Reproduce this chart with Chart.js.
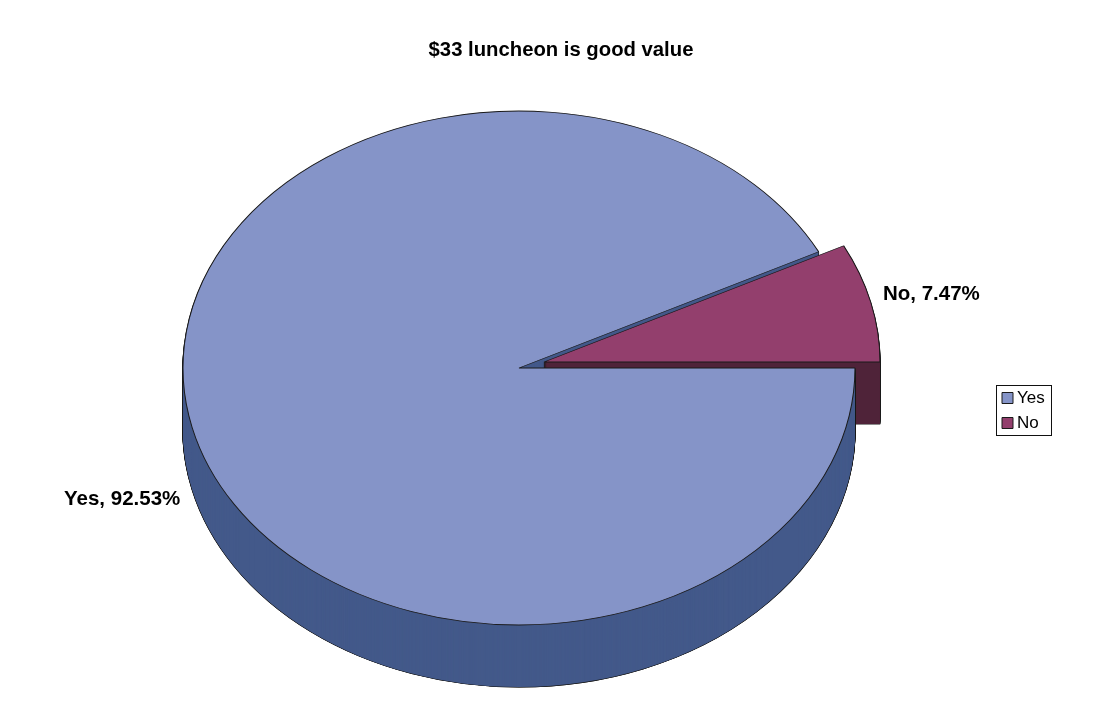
<!DOCTYPE html>
<html>
<head>
<meta charset="utf-8">
<style>html,body{margin:0;padding:0;background:#fff}canvas{display:block}</style>
<script src="https://cdn.jsdelivr.net/npm/chart.js@4/dist/chart.umd.js"></script>
</head>
<body>
<canvas id="c" width="1100" height="720"></canvas>
<script>
const categories = ['Yes', 'No'];
const shares = [92.53, 7.47];
const topColors = ['#8594C8', '#933F6D'];
const wallColors = ['#43598A', '#4F2339'];
const titleText = '$33 luncheon is good value';
const FONT = '"Liberation Sans", Arial, sans-serif';

const view = {cx: 519, cy: 368, rx: 336, ry: 257, depth: 62};
const explode = [[0, 0], [25, -6]];

function paintArc(arc, ctx, fill, line, width) {
  const saved = arc.options;
  arc.options = Object.assign({}, saved, {backgroundColor: fill, borderColor: line, borderWidth: width});
  arc.draw(ctx);
  arc.options = saved;
}

const tiltedPie = {
  id: 'tiltedPie',
  afterLayout(chart) {
    const leg = chart.legend;
    leg.left = 998.5; leg.right = 1100; leg.top = 381.5; leg.bottom = 720;
  },
  beforeDatasetDraw(chart) {
    const ctx = chart.ctx;
    const arcs = chart.getDatasetMeta(0).data;
    const a = arcs[0];
    const sx = view.rx / a.outerRadius, sy = view.ry / a.outerRadius;
    const place = (i, dy) => {
      ctx.setTransform(1, 0, 0, 1, 0, 0);
      ctx.translate(view.cx + explode[i][0], view.cy + explode[i][1] + dy);
      ctx.scale(sx, sy);
      ctx.translate(-a.x, -a.y);
    };
    const wall = (i) => {
      for (let d = view.depth; d >= 1; d--) { place(i, d); paintArc(arcs[i], ctx, '#1a1a1a', '#1a1a1a', 1.2); }
      for (let d = view.depth; d >= 1; d--) { place(i, d); paintArc(arcs[i], ctx, wallColors[i], wallColors[i], 0); }
    };
    ctx.save();
    wall(0);
    wall(1);
    ctx.save();
    ctx.setTransform(1, 0, 0, 1, 0, 0);
    ctx.beginPath();
    ctx.rect(0, view.cy, chart.width, chart.height - view.cy);
    ctx.clip();
    wall(0);
    ctx.restore();
    [0, 1].forEach(i => { place(i, 0); arcs[i].draw(ctx); });
    ctx.restore();
    return false;
  },
  afterDraw(chart) {
    const ctx = chart.ctx;
    ctx.save();
    ctx.fillStyle = '#000';
    ctx.font = 'bold 20.5px ' + FONT;
    ctx.textBaseline = 'middle';
    ctx.textAlign = 'left';
    const spots = [[64, 499], [883, 294]];
    categories.forEach((name, i) => {
      ctx.fillText(name + ', ' + shares[i].toFixed(2) + '%', spots[i][0], spots[i][1]);
    });
    ctx.strokeStyle = '#111';
    ctx.lineWidth = 1;
    ctx.strokeRect(996.5, 385.5, 55, 50);
    ctx.restore();
  }
};

new Chart(document.getElementById('c'), {
  type: 'pie',
  data: {
    labels: categories,
    datasets: [{
      data: shares,
      backgroundColor: topColors,
      borderColor: '#1a1a1a',
      borderWidth: 1,
      clip: false
    }]
  },
  plugins: [tiltedPie],
  options: {
    responsive: false,
    animation: false,
    rotation: 90,
    layout: {padding: {left: 22, right: 0, top: 38, bottom: 0}},
    plugins: {
      tooltip: {enabled: false},
      title: {
        display: true,
        text: titleText,
        color: '#000',
        font: {family: FONT, size: 20.3, weight: 'bold'},
        padding: {top: 0, bottom: 4}
      },
      legend: {
        position: 'right',
        align: 'start',
        labels: {
          color: '#000',
          font: {family: FONT, size: 17},
          usePointStyle: true,
          boxWidth: 2,
          boxHeight: 11,
          padding: 8,
          generateLabels(chart) {
            return categories.map((name, i) => ({
              text: name, fillStyle: topColors[i], strokeStyle: '#1a1a1a', lineWidth: 1, pointStyle: 'rect', index: i, hidden: false
            }));
          }
        }
      }
    }
  }
});
</script>
</body>
</html>
